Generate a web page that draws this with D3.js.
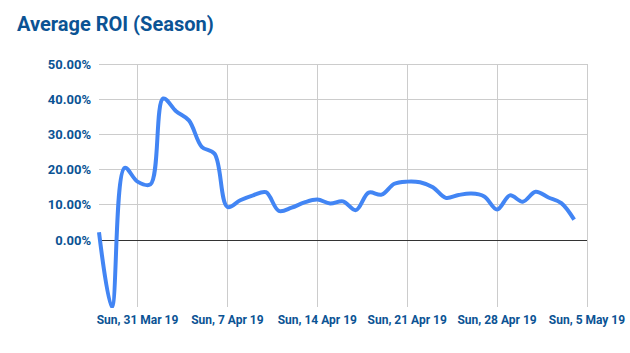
<!DOCTYPE html>
<html>
<head>
<meta charset="utf-8">
<script src="https://cdn.jsdelivr.net/npm/d3@7"></script>
<style>
  body { margin: 0; background: #fff; }
  svg text { font-family: Roboto, "Liberation Sans", sans-serif; font-weight: bold; fill: #0b5394; }
</style>
</head>
<body>
<div class="graph"></div>
<script>
// daily ROI values, Thu 28 Mar 2019 .. Sat 4 May 2019
const startDate = new Date(2019, 2, 28);
const roiValues = [
  0.022, -0.19, 0.205, 0.166, 0.158, 0.402, 0.366, 0.34, 0.265, 0.245,
  0.094, 0.113, 0.127, 0.136, 0.083, 0.092, 0.107, 0.115, 0.104, 0.11,
  0.085, 0.135, 0.129, 0.16, 0.166, 0.164, 0.15, 0.12, 0.128, 0.132,
  0.124, 0.087, 0.127, 0.109, 0.137, 0.121, 0.105, 0.058
];
const yTicks = [0, 0.1, 0.2, 0.3, 0.4, 0.5];
const xTickDates = [
  new Date(2019, 2, 31), new Date(2019, 3, 7), new Date(2019, 3, 14),
  new Date(2019, 3, 21), new Date(2019, 3, 28), new Date(2019, 4, 5)
];
const title = "Average ROI (Season)";

const width = 630, height = 353;
const margins = { top: 64, right: 43, bottom: 46, left: 99 };
const innerW = width - margins.left - margins.right;
const innerH = height - margins.top - margins.bottom;

const dataset = roiValues.map((v, i) => ({
  date: d3.timeDay.offset(startDate, i),
  value: v,
}));

const x = d3.scaleTime()
  .domain([startDate, new Date(2019, 4, 5)])
  .range([0, innerW]);
const y = d3.scaleLinear().domain([-0.19, 0.5]).range([innerH, 0]);

const svg = d3.select(".graph").append("svg")
  .attr("width", width)
  .attr("height", height);

svg.append("text")
  .attr("x", 17)
  .attr("y", 31)
  .attr("font-size", 20)
  .text(title);

const g = svg.append("g")
  .attr("transform", `translate(${margins.left},${margins.top})`);

// horizontal grid
g.selectAll(".hgrid").data(yTicks).enter().append("line")
  .attr("x1", 0).attr("x2", innerW)
  .attr("y1", (d) => y(d)).attr("y2", (d) => y(d))
  .attr("stroke", (d) => (d === 0 ? "#333" : "#ccc"))
  .attr("stroke-width", 1)
  .attr("shape-rendering", "crispEdges");

// vertical grid
g.selectAll(".vgrid").data(xTickDates).enter().append("line")
  .attr("x1", (d) => x(d)).attr("x2", (d) => x(d))
  .attr("y1", 0).attr("y2", innerH)
  .attr("stroke", "#ccc")
  .attr("stroke-width", 1)
  .attr("shape-rendering", "crispEdges");

// redraw zero line on top of vertical grid
g.append("line")
  .attr("x1", 0).attr("x2", innerW)
  .attr("y1", y(0)).attr("y2", y(0))
  .attr("stroke", "#333")
  .attr("shape-rendering", "crispEdges");

// y labels
g.selectAll(".ylab").data(yTicks).enter().append("text")
  .attr("x", -8)
  .attr("y", (d) => y(d))
  .attr("dy", "0.35em")
  .attr("text-anchor", "end")
  .attr("font-size", 13)
  .text((d) => d3.format(".2%")(d));

// x labels
const fmt = d3.timeFormat("%a, %-d %b %y");
g.selectAll(".xlab").data(xTickDates).enter().append("text")
  .attr("x", (d) => x(d))
  .attr("y", innerH + 17)
  .attr("text-anchor", "middle")
  .attr("font-size", 12)
  .text((d) => fmt(d));

g.append("clipPath").attr("id", "clip")
  .append("rect")
  .attr("x", -5).attr("y", -5)
  .attr("width", innerW + 10).attr("height", innerH + 6);

const line = d3.line()
  .x((d) => x(d.date))
  .y((d) => y(d.value))
  .curve(d3.curveCatmullRom.alpha(0.5));

g.append("path")
  .datum(dataset)
  .attr("clip-path", "url(#clip)")
  .attr("fill", "none")
  .attr("stroke", "#4285f4")
  .attr("stroke-width", 4)
  .attr("stroke-linejoin", "round")
  .attr("d", line);
</script>
</body>
</html>
